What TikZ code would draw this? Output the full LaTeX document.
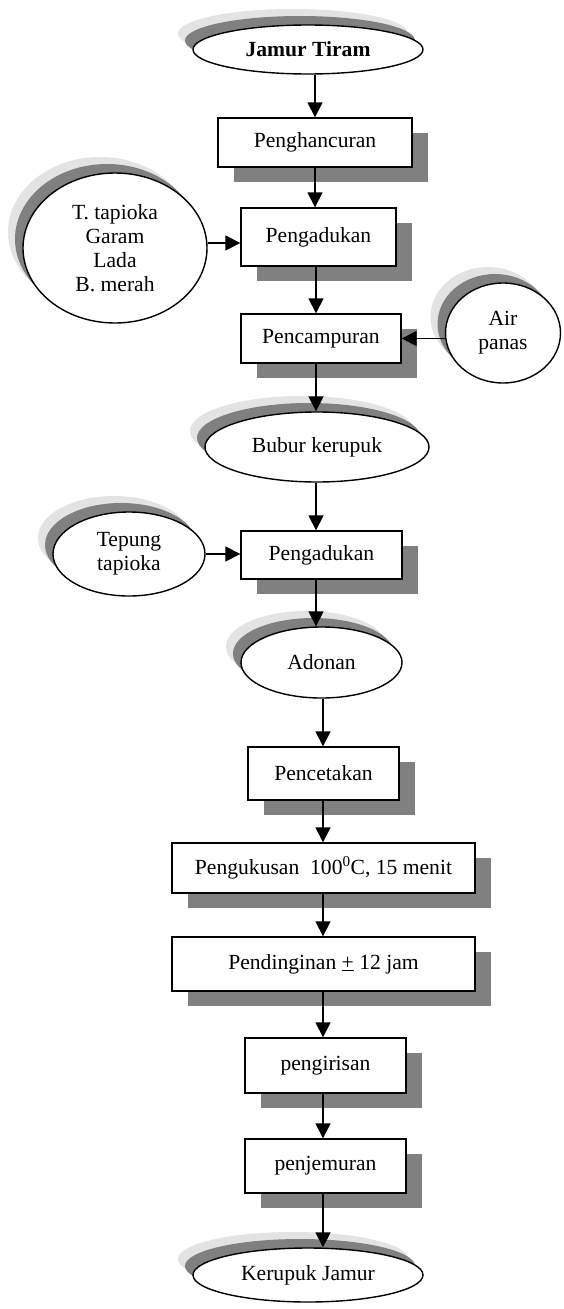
\documentclass[tikz,border=0pt]{standalone}
\usepackage{fontspec}
\setmainfont{Liberation Serif}
\usetikzlibrary{shapes.geometric,arrows.meta,shadows}
\definecolor{shdark}{HTML}{808080}
\definecolor{shlight}{HTML}{E3E3E3}
\begin{document}
\begin{tikzpicture}[x=1pt,y=-1pt,
  every node/.style={font=\fontsize{21.6}{24}\selectfont},
  box/.style={rectangle, draw, line width=1.4pt, fill=white, inner sep=0pt,
    drop shadow={shadow xshift=16pt, shadow yshift=-15pt, fill=shdark, opacity=1}},
  oval/.style={ellipse, draw, line width=1.4pt, fill=white, inner sep=0pt, align=center,
    general shadow={fill=shlight, shadow xshift=-15pt, shadow yshift=16pt},
    general shadow={fill=shdark, shadow xshift=-8pt, shadow yshift=9pt}},
  arr/.style={line width=1.7pt, -{Triangle[width=15pt,length=15pt]}}]
\useasboundingbox[fill=white] (0,0) rectangle (563,1309);
\coordinate (col1) at (316,0);
\coordinate (col2) at (323,0);
% nodes
\node[oval, minimum width=230, minimum height=49] (jt) at (308,49.5) {\textbf{Jamur Tiram}};
\node[box, minimum width=194, minimum height=49] (b1) at (315,142.5) {Penghancuran};
\node[box, minimum width=155, minimum height=58] (b2) at (318.5,237) {Pengadukan};
\node[oval, minimum width=184, minimum height=150] (lc) at (115,248) {T. tapioka\\Garam\\Lada\\B. merah};
\node[box, minimum width=160, minimum height=49] (b3) at (321,338.5) {Pencampuran};
\node[oval, minimum width=115, minimum height=100] (air) at (503,333) {Air\\panas};
\node[oval, minimum width=224, minimum height=70] (bk) at (317,447) {Bubur kerupuk};
\node[box, minimum width=161, minimum height=48] (b4) at (321.5,555) {Pengadukan};
\node[oval, minimum width=152, minimum height=84] (tt) at (129,554) {Tepung\\tapioka};
\node[oval, minimum width=161, minimum height=71] (ad) at (321.5,662.5) {Adonan};
\node[box, minimum width=151, minimum height=53] (b5) at (323.5,773.5) {Pencetakan};
\node[box, minimum width=303, minimum height=50] (b6) at (323.5,868) {Pengukusan\ \ 100\textsuperscript{0}C, 15 menit};
\node[box, minimum width=303, minimum height=54] (b7) at (323.5,964) {Pendinginan \underline{+} 12 jam};
\node[box, minimum width=161, minimum height=55] (b8) at (325.5,1065.5) {pengirisan};
\node[box, minimum width=161, minimum height=54] (b9) at (325.5,1166) {penjemuran};
\node[oval, minimum width=230, minimum height=54] (kj) at (308,1275) {Kerupuk Jamur};
% connectors
\draw[arr] (b1.north |- jt.south) -- (b1.north);
\draw[arr] (b1.south) -- (b1.south |- b2.north);
\draw[arr] (b2.south -| col1) -- (b3.north -| col1);
\draw[arr] (b3.south -| col1) -- (bk.north -| col1);
\draw[arr] (bk.south -| col1) -- (b4.north -| col1);
\draw[arr] (b4.south -| col1) -- (ad.north -| col1);
\draw[arr] (ad.south -| col2) -- (b5.north -| col2);
\draw[arr] (b5.south -| col2) -- (b6.north -| col2);
\draw[arr] (b6.south -| col2) -- (b7.north -| col2);
\draw[arr] (b7.south -| col2) -- (b8.north -| col2);
\draw[arr] (b8.south -| col2) -- (b9.north -| col2);
\draw[arr] (b9.south -| col2) -- (kj.north -| col2);
\draw[arr] ([yshift=5pt]lc.east) -- ([yshift=5pt]lc.east -| b2.west);
\draw[arr] (b3.east -| air.west) -- (b3.east);
\draw[arr] (tt.east) -- (tt.east -| b4.west);
\end{tikzpicture}
\end{document}
